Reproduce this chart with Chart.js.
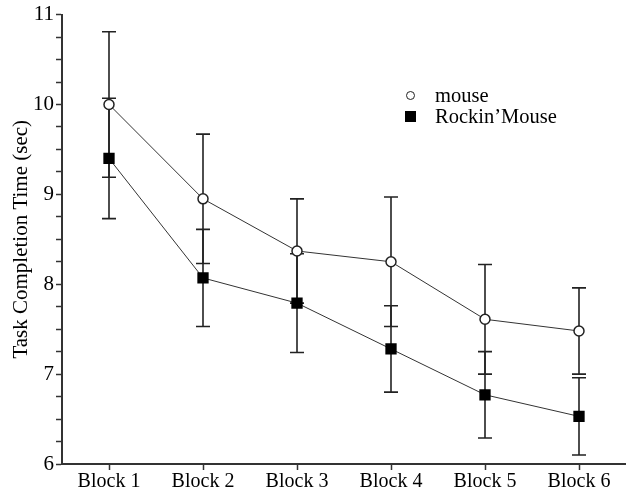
<!DOCTYPE html>
<html>
<head>
<meta charset="utf-8">
<script src="https://cdn.jsdelivr.net/npm/chart.js@4"></script>
<style>
  body { margin: 0; background: #fff; }
  #wrap { position: relative; width: 626px; height: 494px; }
  #legend { position: absolute; left: 405px; top: 85px; font-family: "Liberation Serif", serif; font-size: 20.5px; color: #000; line-height: 21px; }
  #legend div { display: flex; align-items: center; }
  .mk { display: inline-block; box-sizing: border-box; }
  .mk.c { width: 9px; height: 9px; border: 1.5px solid #222; border-radius: 50%; background: #fff; margin-left: 1px; margin-right: 20px; }
  .mk.s { width: 11px; height: 11px; background: #000; margin-right: 19px; }
</style>
</head>
<body>
<div id="wrap">
  <canvas id="chart"></canvas>
  <div id="legend">
    <div><span class="mk c"></span>mouse</div>
    <div><span class="mk s"></span>Rockin’Mouse</div>
  </div>
</div>
<script>
const blocks = ['Block 1', 'Block 2', 'Block 3', 'Block 4', 'Block 5', 'Block 6'];
const mouseTime = [10.0, 8.95, 8.37, 8.25, 7.61, 7.48];
const mouseErr = [0.81, 0.72, 0.58, 0.72, 0.61, 0.48];
const rockinTime = [9.40, 8.07, 7.79, 7.28, 6.77, 6.53];
const rockinErr = [0.67, 0.54, 0.55, 0.48, 0.48, 0.43];

const serif = '"Liberation Serif", "Times New Roman", serif';

// error bars drawn under the markers
const errorBars = {
  id: 'errorBars',
  beforeDatasetsDraw(chart) {
    const ctx = chart.ctx, y = chart.scales.y;
    ctx.save();
    ctx.strokeStyle = '#222';
    ctx.lineWidth = 1.6;
    chart.data.datasets.forEach((ds, i) => {
      const meta = chart.getDatasetMeta(i);
      meta.data.forEach((pt, j) => {
        const e = ds.err[j];
        const top = y.getPixelForValue(ds.data[j] + e);
        const bot = y.getPixelForValue(ds.data[j] - e);
        ctx.beginPath();
        ctx.moveTo(pt.x, top); ctx.lineTo(pt.x, bot);
        ctx.moveTo(pt.x - 7, top); ctx.lineTo(pt.x + 7, top);
        ctx.moveTo(pt.x - 7, bot); ctx.lineTo(pt.x + 7, bot);
        ctx.stroke();
      });
    });
    ctx.restore();
  }
};

new Chart(document.getElementById('chart'), {
  type: 'line',
  data: {
    labels: blocks,
    datasets: [
      { label: 'mouse', data: mouseTime, err: mouseErr, borderColor: '#333', borderWidth: 1, pointStyle: 'circle', pointRadius: 5, pointBackgroundColor: '#fff', pointBorderColor: '#222', pointBorderWidth: 1.5 },
      { label: 'Rockin’Mouse', data: rockinTime, err: rockinErr, borderColor: '#333', borderWidth: 1, pointStyle: 'rect', pointRadius: 8, pointBackgroundColor: '#000', pointBorderColor: '#000', pointBorderWidth: 0 }
    ]
  },
  options: {
    responsive: true,
    maintainAspectRatio: false,
    animation: false,
    layout: { autoPadding: false, padding: { top: 14, right: 0, bottom: 0, left: 0 } },
    plugins: { legend: { display: false }, tooltip: { enabled: false } },
    scales: {
      x: {
        offset: true,
        grid: { offset: false, drawOnChartArea: false, color: '#333', tickLength: 6, tickWidth: 1.5 },
        border: { color: '#333', width: 2 },
        ticks: { color: '#000', font: { family: serif, size: 20 }, padding: 0, maxRotation: 0 },
        afterFit(s) { s.height = 30; }
      },
      y: {
        min: 6, max: 11,
        grid: { drawOnChartArea: false, color: '#333', tickLength: 6, tickWidth: 1.5 },
        border: { color: '#333', width: 2 },
        ticks: { stepSize: 0.25, autoSkip: false, color: '#000', font: { family: serif, size: 21 }, padding: 2,
          callback: v => Number.isInteger(v) ? v : '' },
        title: { display: true, text: 'Task Completion Time (sec)', color: '#000', font: { family: serif, size: 21 }, padding: { top: 9, bottom: 0 } },
        afterFit(s) { s.width = 62; }
      }
    }
  },
  plugins: [errorBars]
});
</script>
</body>
</html>
